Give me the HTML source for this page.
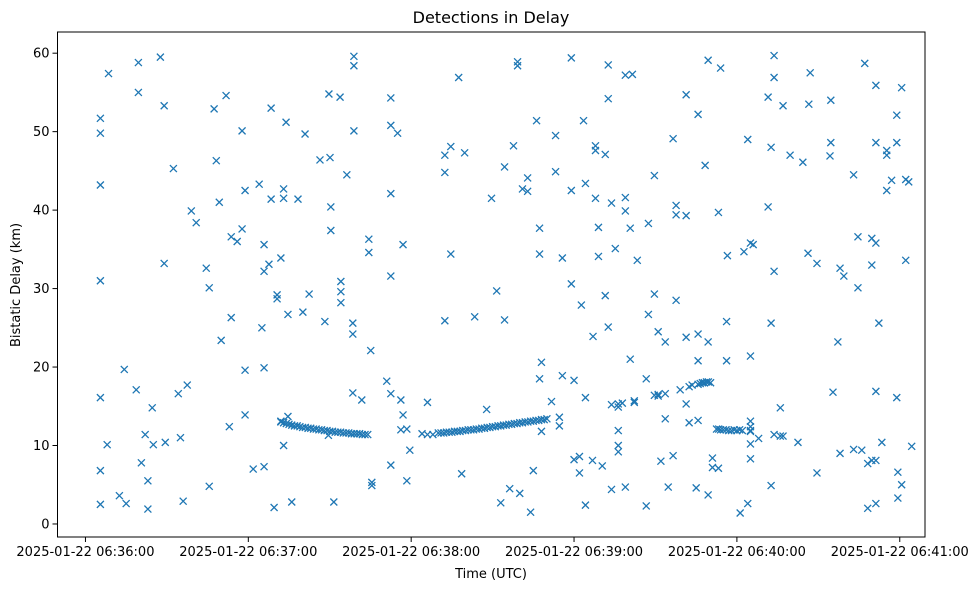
<!DOCTYPE html>
<html><head><meta charset="utf-8"><style>
body{margin:0;background:#fff;font-family:"Liberation Sans","DejaVu Sans",sans-serif;}
svg text{font-family:"DejaVu Sans","Liberation Sans",sans-serif;fill:#000;}
</style></head><body>
<svg id="chart" width="980" height="590" viewBox="0 0 980 590" xmlns="http://www.w3.org/2000/svg">
<rect width="980" height="590" fill="#fff"/>
<text x="491" y="23" font-size="16" text-anchor="middle">Detections in Delay</text>
<text x="491" y="578" font-size="13" text-anchor="middle">Time (UTC)</text>
<text transform="translate(20,285) rotate(-90)" font-size="13" text-anchor="middle">Bistatic Delay (km)</text>
<g id="marks"></g>
<g id="axes"></g>
</svg>
<script>
const xTicks=[0,60,120,180,240,300];
const xTickLabels=["2025-01-22 06:36:00","2025-01-22 06:37:00","2025-01-22 06:38:00","2025-01-22 06:39:00","2025-01-22 06:40:00","2025-01-22 06:41:00"];
const yTicks=[0,10,20,30,40,50,60];
const scatterTimes=[5.5,5.5,5.5,5.5,5.5,5.5,5.5,8.5,8,12.5,14.3,15,18.7,19.5,19.5,20.6,22,23,23,24.6,25,27.6,29,29,29.4,32.4,34.2,35,36,37.5,39,40.8,44.5,45.6,45.6,47.4,48.2,49.3,50,51.8,53,53.7,53.7,55.9,57.7,57.7,58.8,58.8,58.8,61.8,64,65,65.8,65.8,65.8,65.8,67.6,68.4,68.4,69.5,70.6,70.6,72,72,73,73,73,73.9,74.6,74.6,76,78.3,80.1,80.9,82.4,86.4,88.2,89.7,90.1,90.4,90.4,91.5,93.8,94.1,94.1,94.1,96.3,98.5,98.5,98.5,98.9,98.9,98.9,101.8,104.4,104.4,105.1,105.5,105.5,111,112.5,112.5,112.5,112.5,112.5,112.5,115,116.2,116.2,117,117,118.4,118.4,119.5,
72,73,74,75,76,77,78,79,80,81,82,83,84,85,86,87,88,89,90,91,92,93,94,95,96,97,98,99,100,101,102,103,104,89.5,
124,126,126,128,130,131,132,133,134,135,136,137,138,139,140,141,142,143,144,145,146,147,148,149,150,151,152,153,154,155,156,157,158,159,160,161,162,163,164,165,166,167,168,169,170,
132.4,132.4,132.4,134.6,134.6,137.5,138.6,139.7,143.4,147.8,149.6,151.5,153,154.4,154.4,156.3,157.7,159.2,159.2,160,161,162.9,162.9,164,165,166.2,167.3,167.3,167.3,168,168,171.7,173.2,173.2,174.6,174.6,175.7,175.7,179,179,179,180,180,182,182,182.7,183.5,184.2,184.2,184.2,186.8,187,187.9,187.9,187.9,189,189,190.4,191.5,191.5,192.6,192.6,192.6,193.8,193.8,193.8,195.2,196.3,196.3,196.3,196.3,196.3,197.8,198.9,198.9,198.9,198.9,200.7,200.7,201.5,202.2,202.2,203.3,206.6,206.6,207.4,207.4,209.6,209.6,209.6,211,211,211,212,213.6,213.6,213.6,214.7,216.5,216.5,217.6,217.6,217.6,219.1,221.3,221.3,221.3,221.3,222.4,222.4,223.5,225,225.7,225.7,225.7,225.7,
225.7,226.5,227.3,228,228.8,229.5,230.3,228.3,229.4,229.4,229.4,231,231,233.2,233.2,234,236.2,236.2,236.5,
232.5,233.3,234,235,236,237,238,239,240,241,242,
241.2,242.6,244,244,245,245,245,245,245,245,245,245,246,248,251.5,251.5,252.6,252.6,252.6,253.7,253.7,253.7,253.7,256,256,257,257,259.6,262.5,264.3,266.2,266.5,267,269.5,269.5,274.3,274.6,274.6,275.4,277.2,278,278,279.4,283,283,284.6,284.6,286,287.1,288.2,288.2,289.7,289.7,289.7,291.2,291.2,291.2,291.2,291.2,291.2,292.3,293.4,295.2,295.2,295.2,297,298.9,298.9,298.9,299.3,299.3,300.7,300.7,302.2,302.2,303.3,304.4];
const scatterDelays=[51.7,49.8,43.2,31.0,16.1,6.8,2.5,57.4,10.1,3.6,19.7,2.6,17.1,55.0,58.8,7.8,11.4,1.9,5.5,14.8,10.1,59.5,53.3,33.2,10.4,45.3,16.6,11.0,2.9,17.7,39.9,38.4,32.6,30.1,4.8,52.9,46.3,41.0,23.4,54.6,12.4,36.6,26.3,36.0,50.1,37.6,42.5,19.6,13.9,7.0,43.3,25.0,35.6,32.2,19.9,7.3,33.1,53.0,41.4,2.1,29.2,28.7,13.1,33.9,42.7,41.5,10.0,51.2,26.7,13.7,2.8,41.4,27.0,49.7,29.3,46.4,25.8,54.8,46.7,37.4,40.4,2.8,54.4,30.9,29.6,28.2,44.5,25.6,24.2,16.7,59.6,58.4,50.1,15.8,36.3,34.6,22.1,5.3,4.9,18.2,54.3,50.8,42.1,31.6,16.6,7.5,49.8,15.8,12.0,35.6,13.9,5.5,12.1,9.4,
13.0,12.9,12.8,12.7,12.6,12.5,12.5,12.4,12.3,12.3,12.2,12.2,12.1,12.1,12.0,12.0,11.9,11.9,11.8,11.8,11.7,11.7,11.7,11.6,11.6,11.6,11.5,11.5,11.5,11.5,11.4,11.4,11.4,11.3,
11.5,15.5,11.4,11.4,11.6,11.6,11.6,11.7,11.7,11.7,11.8,11.8,11.8,11.9,11.9,12.0,12.0,12.0,12.1,12.1,12.2,12.2,12.3,12.3,12.4,12.4,12.5,12.5,12.6,12.6,12.7,12.7,12.8,12.8,12.9,12.9,13.0,13.0,13.1,13.1,13.2,13.2,13.3,13.3,13.4,
47.0,44.8,25.9,48.1,34.4,56.9,6.4,47.3,26.4,14.6,41.5,29.7,2.7,45.5,26.0,4.5,48.2,58.9,58.4,3.9,42.7,44.1,42.4,1.5,6.8,51.4,37.7,34.4,18.5,20.6,11.8,15.6,49.5,44.9,12.5,13.6,33.9,18.9,59.4,42.5,30.6,18.3,8.2,8.6,6.5,27.9,51.4,43.4,16.1,2.4,8.1,23.9,48.2,41.5,47.6,34.1,37.8,7.4,47.1,29.1,58.5,54.2,25.1,40.9,15.2,4.4,35.1,15.3,14.9,11.9,10.0,9.2,15.4,57.2,41.6,39.9,4.7,21.0,37.7,57.3,15.5,15.7,33.6,18.5,2.3,38.3,26.7,29.3,44.4,16.4,16.3,24.5,16.5,8.0,23.2,16.6,13.4,4.7,49.1,8.7,28.5,40.6,39.4,17.1,54.7,39.3,23.8,15.3,17.5,12.9,17.7,4.6,52.2,24.2,20.8,13.2,
17.8,17.9,18.0,18.0,18.1,18.1,18.0,45.7,59.1,23.2,3.7,7.2,8.4,39.7,7.1,58.1,25.8,20.8,34.2,
12.1,12.1,12.0,12.0,12.0,11.9,11.9,12.0,11.9,12.0,11.9,
1.4,34.7,49.0,2.6,35.8,21.4,12.4,13.1,11.8,11.9,8.3,10.2,35.6,10.9,40.4,54.4,48.0,25.6,4.9,59.7,56.9,32.2,11.4,11.2,14.8,53.3,11.2,47.0,10.4,46.1,34.5,53.5,57.5,33.2,6.5,46.9,48.6,54.0,16.8,23.2,32.6,9.0,31.6,44.5,9.5,36.6,30.1,9.4,58.7,7.7,2.0,36.4,33.0,8.1,48.6,55.9,35.8,16.9,8.1,2.6,25.6,10.4,47.6,42.5,47.0,43.8,52.1,48.6,16.1,6.6,3.3,55.6,5.0,33.6,43.9,43.6,9.9];

const L=57.5,R=925,T=32,B=537;
const xMin=-10.3,xMax=309.3,yMin=-1.66,yMax=62.7;
function xs(v){return L+(v-xMin)/(xMax-xMin)*(R-L);}
function ys(v){return B-(v-yMin)/(yMax-yMin)*(B-T);}
const NS="http://www.w3.org/2000/svg";
const marks=document.getElementById('marks');
const axes=document.getElementById('axes');
const n=Math.min(scatterTimes.length,scatterDelays.length);
for(let i=0;i<n;i++){
  const cx=xs(scatterTimes[i]),cy=ys(scatterDelays[i]);
  const p=document.createElementNS(NS,'path');
  p.setAttribute('d',`M${cx-3.5},${cy-3.5}L${cx+3.5},${cy+3.5}M${cx-3.5},${cy+3.5}L${cx+3.5},${cy-3.5}`);
  p.setAttribute('stroke','#1f77b4');p.setAttribute('stroke-width','1.3');
  
  
  marks.appendChild(p);
}
const frame=document.createElementNS(NS,'rect');
frame.setAttribute('x',L);frame.setAttribute('y',T);frame.setAttribute('width',R-L);frame.setAttribute('height',B-T);
frame.setAttribute('fill','none');frame.setAttribute('stroke','#000');frame.setAttribute('stroke-width','1');


axes.appendChild(frame);
xTicks.forEach((v,i)=>{
  const x=xs(v);
  const l=document.createElementNS(NS,'line');
  l.setAttribute('x1',x);l.setAttribute('x2',x);l.setAttribute('y1',B);l.setAttribute('y2',B+5);l.setAttribute('stroke','#000');
  
  
  axes.appendChild(l);
  const t=document.createElementNS(NS,'text');
  t.setAttribute('x',x);t.setAttribute('y',B+19);t.setAttribute('font-size','13');t.setAttribute('text-anchor','middle');
  t.textContent=xTickLabels[i];
  
  
  axes.appendChild(t);
});
yTicks.forEach(v=>{
  const y=ys(v);
  const l=document.createElementNS(NS,'line');
  l.setAttribute('x1',L-5);l.setAttribute('x2',L);l.setAttribute('y1',y);l.setAttribute('y2',y);l.setAttribute('stroke','#000');
  
  
  axes.appendChild(l);
  const t=document.createElementNS(NS,'text');
  t.setAttribute('x',L-8);t.setAttribute('y',y+4.5);t.setAttribute('font-size','13');t.setAttribute('text-anchor','end');
  t.textContent=String(v);
  
  
  axes.appendChild(t);
});
</script>
</body></html>
